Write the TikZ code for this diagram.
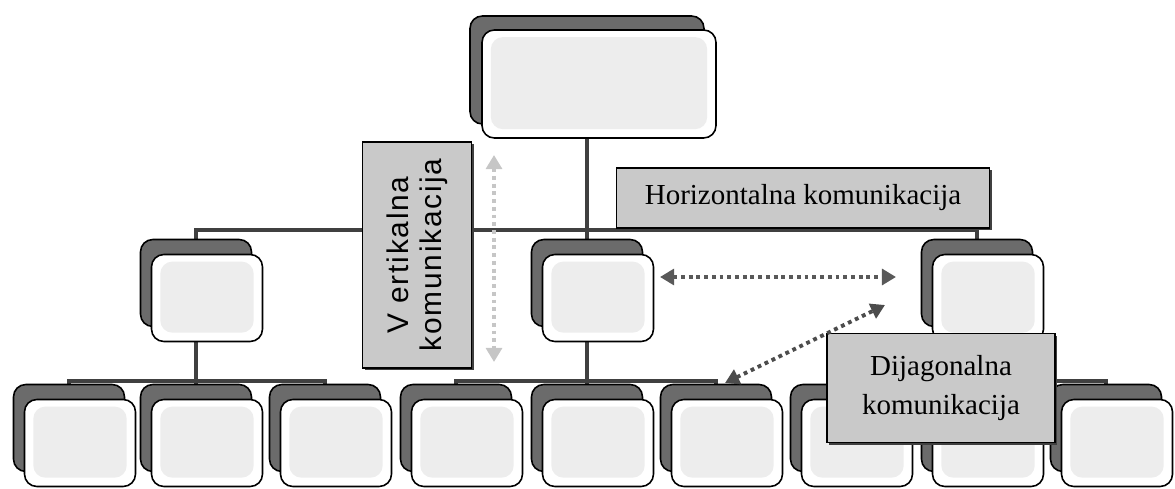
\documentclass[tikz,border=0pt]{standalone}
\usepackage{fontspec}
\setmainfont{Liberation Serif}
\setsansfont{Liberation Sans}
\usetikzlibrary{positioning,calc,arrows.meta,shadows}
\pgfdeclarelayer{background}
\pgfsetlayers{background,main}

\begin{document}
\begin{tikzpicture}[x=0.02cm, y=-0.02cm,
	back/.style={draw=black, line width=0.9pt, fill=black!58, rounded corners=7pt, inner sep=0pt, minimum width=2.22cm, minimum height=1.74cm},
	front/.style={draw=black, line width=0.9pt, fill=white, rounded corners=7pt, inner sep=0pt, minimum width=2.22cm, minimum height=1.74cm,
		path picture={\fill[black!7] ([shift={(5pt,-4pt)}]path picture bounding box.north west) rectangle ([shift={(-5pt,5pt)}]path picture bounding box.south east);}},
	big/.style={minimum width=4.68cm, minimum height=2.16cm},
	conn/.style={line width=2.2pt, draw=black!75},
	note/.style={draw=black, line width=0.8pt, fill=gray!42, inner sep=0pt,
		drop shadow={shadow xshift=1.2pt, shadow yshift=-1.4pt, fill=black!75, opacity=1}},
	comm/.style={line width=2.2pt, dash pattern=on 2.2pt off 2.2pt, {Triangle[length=8pt,width=9pt]}-{Triangle[length=8pt,width=9pt]}}]

	\useasboundingbox (0,0) rectangle (1175,489);

	% top
	\node[back,big] (t) at (587,70) {};
	\node[front,big] (t1) at (599,84) {};

	% second level
	\node[back] (l) at (196,283) {};
	\node[front] (l1) at (207,298) {};
	\node[back] (m) at (587,283) {};
	\node[front] (m1) at (598,298) {};
	\node[back] (r) at (977,283) {};
	\node[front] (r1) at (988,298) {};

	% third level
	\foreach \n/\x in {a/69,b/196,c/325,d/456,e/587,f/716,g/846,h/977,i/1106} {
		\node[back] (\n) at (\x,428) {};
		\node[front] (\n1) at (\x+11,443) {};
	}

	\coordinate (bus) at (587,230);
	\coordinate (bl) at (196,381);
	\coordinate (bm) at (587,381);
	\coordinate (br) at (977,381);

	\begin{pgfonlayer}{background}
		\draw[conn] (t.south) -- (bus);
		\draw[conn] (l.north) |- (bus) -| (r.north);
		\draw[conn] (bus) -- (m.north);

		\draw[conn] (l.south) -- (bl);
		\draw[conn] (a.north) |- (bl) -| (c.north);
		\draw[conn] (bl) -- (b.north);

		\draw[conn] (m.south) -- (bm);
		\draw[conn] (d.north) |- (bm) -| (f.north);
		\draw[conn] (bm) -- (e.north);

		\draw[conn] (r.south) -- (br);
		\draw[conn] (g.north) |- (br) -| (i.north);
		\draw[conn] (br) -- (h.north);
	\end{pgfonlayer}

	% labels
	\node[note, rotate=90, minimum width=4.52cm, minimum height=2.18cm, align=center,
		font=\sffamily\fontsize{17}{19}\selectfont\addfontfeatures{LetterSpace=6}] (vk) at (417,255) {V ertikalna\\komunikacija};
	\node[note, minimum width=7.46cm, minimum height=1.2cm,
		font=\fontsize{16.5}{20}\selectfont] (hk) at (803,198) {Horizontalna komunikacija};
	\node[note, minimum width=4.56cm, minimum height=2.18cm, align=center,
		font=\fontsize{16.5}{22}\selectfont] (dk) at (941,388) {Dijagonalna\\komunikacija};

	% arrows
	\coordinate (v1) at (494,155);
	\coordinate (v2) at (494,362);
	\coordinate (h1) at (660,277);
	\coordinate (h2) at (896,277);
	\coordinate (d1) at (725,383);
	\coordinate (d2) at (885,305);

	\draw[comm, color=gray!45] (v1) -- (v2);
	\draw[comm, color=black!65] (h1) -- (h2);
	\draw[comm, color=black!70] (d1) -- (d2);
\end{tikzpicture}
\end{document}
